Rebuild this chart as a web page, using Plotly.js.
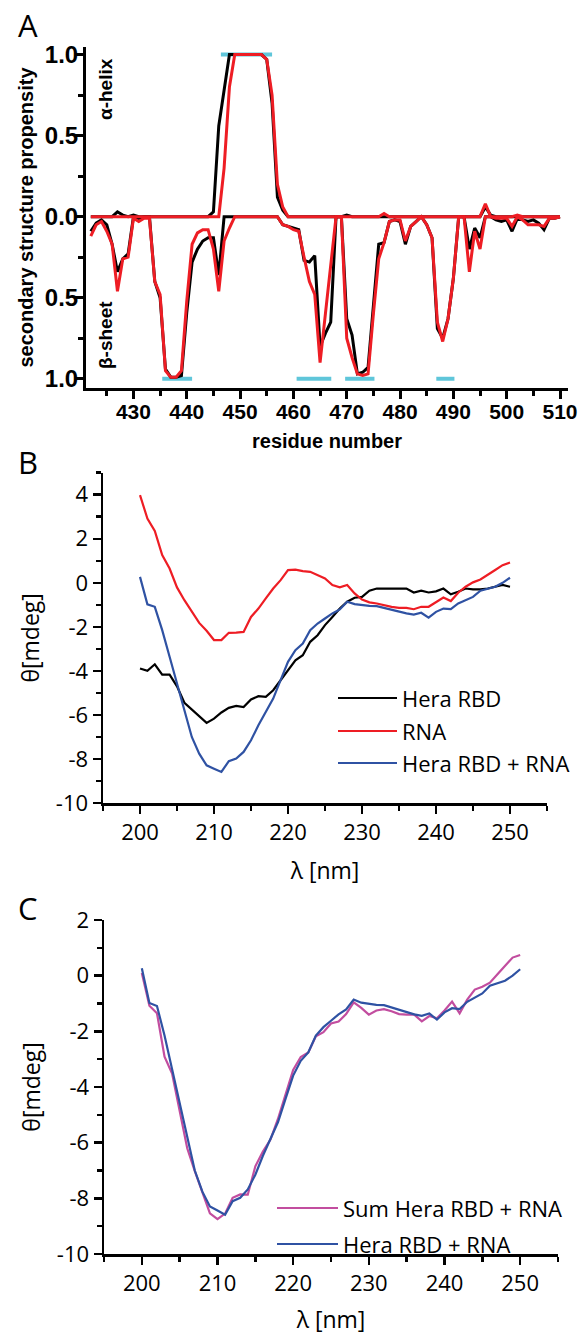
<!DOCTYPE html>
<html><head><meta charset="utf-8">
<script src="https://cdn.plot.ly/plotly-3.0.1.min.js"></script>
<style>html,body{margin:0;padding:0;background:#fff}#plot{width:579px;height:1335px}</style>
</head><body><div id="plot"></div>
<script>
// ---------- Panel A data ----------
const residues = [422,423,424,425,426,427,428,429,430,431,
  432,433,434,435,436,437,438,439,440,441,
  442,443,444,445,446,447,448,449,450,451,
  452,453,454,455,456,457,458,459,460,461,
  462,463,464,465,466,467,468,469,470,471,
  472,473,474,475,476,477,478,479,480,481,
  482,483,484,485,486,487,488,489,490,491,
  492,493,494,495,496,497,498,499,500,501,
  502,503,504,505,506,507,508,509,510];
const helixBlack = [0,0,0,0,0,0.03,0.01,0,0.01,0,
  0,0,0,0,0,0,0,0,0,0,
  0,0,0,0.03,0.56,0.78,1,1,1,1,
  1,1,1,0.97,0.7,0.12,0.04,0,0,0,
  0,0,0,0,0,0,0,0,0.01,0,
  0,0,0,0,0,0,0,0,0,0,
  0,0,0,0,0,0,0,0,0,0,
  0,0,0,0,0.06,0.01,0,0,0,0,
  0,0,0,0,0,0,0,0,0];
const helixRed = [0,0,0,0,0,0,0,0,0,0,
  0,0,0,0,0,0,0,0,0,0,
  0,0,0,0,0,0.3,0.8,1,1,1,
  1,1,1,0.97,0.75,0.2,0.06,0,0,0,
  0,0,0,0,0,0,0,0,0,0,
  0,0,0,0,0,0.02,0,0,0,0,
  0,0,0,0,0,0,0,0,0,0,
  0,0,0,0,0.08,0,0,0,0,0,
  0.01,0,0,0,0,0,0,0,0];
const sheetBlack = [0.09,0.04,0.02,0.05,0.17,0.34,0.26,0.23,0,0.01,
  0,0,0.4,0.5,0.94,0.99,0.99,0.98,0.59,0.28,
  0.2,0.15,0.13,0.13,0.36,0,0,0,0,0,
  0,0,0,0,0,0,0.05,0.06,0.07,0.08,
  0.27,0.28,0.24,0.8,0.72,0.65,0,0,0.63,0.73,
  0.97,0.96,0.93,0.55,0.17,0.16,0.03,0.02,0.03,0.17,
  0.06,0.03,0,0.05,0.13,0.69,0.75,0.63,0.38,0,
  0,0.2,0.07,0.13,0,0,0.02,0.03,0.02,0.09,
  0.01,0.02,0.03,0.02,0.04,0.08,0.01,0.01,0];
const sheetRed = [0.12,0.05,0.03,0.09,0.17,0.46,0.26,0.25,0.01,0.03,
  0.01,0.01,0.4,0.48,0.95,0.99,0.99,0.95,0.52,0.17,
  0.1,0.08,0.08,0.2,0.46,0.15,0.07,0,0,0,
  0,0,0,0,0,0,0.05,0.06,0.08,0.09,
  0.25,0.4,0.48,0.9,0.6,0.28,0,0,0.75,0.87,
  0.97,0.98,0.97,0.6,0.26,0.16,0.03,0.02,0.02,0.15,
  0.06,0.03,0,0.05,0.13,0.65,0.77,0.63,0.38,0,
  0,0.34,0.09,0.2,0,0,0.01,0.01,0.01,0.06,
  0,0.02,0.05,0.05,0.05,0.06,0.01,0.01,0];
const helixBars = [[446.4,456.0]];
const sheetBars = [[435.4,441.0],[460.6,467.1],[469.7,475.2],[486.8,490.2]];
const residueTicks = [430,440,450,460,470,480,490,500,510];
const propTickVals = [-1,-0.5,0,0.5,1];
const propTickText = ['1.0','0.5','0.0','0.5','1.0'];

// ---------- Panels B / C data ----------
const wavelength = [200,201,202,203,204,205,206,207,208,209,
  210,211,212,213,214,215,216,217,218,219,
  220,221,222,223,224,225,226,227,228,229,
  230,231,232,233,234,235,236,237,238,239,
  240,241,242,243,244,245,246,247,248,249,250];
const heraRBD = [-3.89,-4.0,-3.7,-4.17,-4.17,-4.7,-5.45,-5.75,-6.05,-6.36,
  -6.17,-5.89,-5.68,-5.59,-5.64,-5.3,-5.15,-5.18,-4.88,-4.42,
  -3.97,-3.52,-3.29,-2.68,-2.38,-1.92,-1.55,-1.17,-0.86,-0.68,
  -0.64,-0.36,-0.26,-0.26,-0.29,-0.26,-0.26,-0.44,-0.36,-0.44,
  -0.39,-0.26,-0.52,-0.41,-0.26,-0.3,-0.3,-0.26,-0.18,-0.1,-0.18];
const rna = [3.98,2.92,2.35,1.26,0.65,-0.21,-0.79,-1.32,-1.82,-2.18,
  -2.6,-2.6,-2.27,-2.26,-2.23,-1.55,-1.17,-0.71,-0.26,0.12,
  0.58,0.6,0.53,0.5,0.35,0.2,-0.1,-0.21,-0.1,-0.48,
  -0.76,-0.89,-0.94,-1.02,-1.09,-1.14,-1.14,-1.2,-1.09,-1.09,
  -0.86,-0.67,-0.83,-0.45,-0.18,0.02,0.15,0.35,0.58,0.8,0.92];
const heraRBDplusRNA = [0.27,-0.98,-1.09,-2.15,-3.36,-4.58,-5.79,-7.0,-7.76,-8.29,
  -8.44,-8.59,-8.1,-7.98,-7.68,-7.15,-6.47,-5.86,-5.26,-4.42,
  -3.59,-3.06,-2.76,-2.15,-1.85,-1.62,-1.39,-1.21,-0.86,-0.97,
  -1.02,-1.05,-1.06,-1.14,-1.24,-1.32,-1.39,-1.44,-1.36,-1.58,
  -1.32,-1.17,-1.2,-0.94,-0.79,-0.64,-0.36,-0.26,-0.18,0.0,0.23];
const sumHeraRBDRNA = [0.1,-1.08,-1.35,-2.91,-3.52,-4.9,-6.2,-7.02,-7.82,-8.54,
  -8.75,-8.55,-7.98,-7.86,-7.87,-6.85,-6.32,-5.89,-5.14,-4.3,
  -3.39,-2.92,-2.76,-2.18,-2.03,-1.72,-1.65,-1.38,-0.96,-1.16,
  -1.4,-1.25,-1.2,-1.28,-1.38,-1.4,-1.4,-1.64,-1.45,-1.53,
  -1.25,-0.93,-1.35,-0.86,-0.5,-0.4,-0.25,0.05,0.35,0.65,0.74];
const wlTicks = [200,210,220,230,240,250];
const thetaTicksB = [-10,-8,-6,-4,-2,0,2,4];
const thetaTextB = ['-10','-8','-6','-4','-2','0','2','4'];
const thetaTicksC = [-10,-8,-6,-4,-2,0,2];
const thetaTextC = ['-10','-8','-6','-4','-2','0','2'];

// ---------- styling ----------
const W = 579, H = 1335;
const px = x => x / W, py = y => 1 - y / H;
const BLACK = '#000000', RED = '#ee1d24', CYAN = '#5fc6da', BLUE = '#2f52a3', MAGENTA = '#c24d9f';
const arialB = (s) => ({family:'Liberation Sans, Arial, sans-serif', size:s, color:'#000', weight:'bold'});
const myr = (s) => ({family:'Open Sans, sans-serif', size:s, color:'#000'});

const traces = [];
helixBars.forEach(b => traces.push({x:b, y:[1,1], xaxis:'x', yaxis:'y', mode:'lines', line:{color:CYAN, width:4}, hoverinfo:'skip'}));
sheetBars.forEach(b => traces.push({x:b, y:[-1,-1], xaxis:'x', yaxis:'y', mode:'lines', line:{color:CYAN, width:4}, hoverinfo:'skip'}));
traces.push({name:'helix (black)', x:residues, y:helixBlack, xaxis:'x', yaxis:'y', mode:'lines', line:{color:BLACK, width:3}});
traces.push({name:'sheet (black)', x:residues, y:sheetBlack.map(v => -v), xaxis:'x', yaxis:'y', mode:'lines', line:{color:BLACK, width:3}});
traces.push({name:'helix (red)', x:residues, y:helixRed, xaxis:'x', yaxis:'y', mode:'lines', line:{color:RED, width:3}});
traces.push({name:'sheet (red)', x:residues, y:sheetRed.map(v => -v), xaxis:'x', yaxis:'y', mode:'lines', line:{color:RED, width:3}});

const seriesB = [
  {name:'Hera RBD', y:heraRBD, color:BLACK},
  {name:'RNA', y:rna, color:RED},
  {name:'Hera RBD + RNA', y:heraRBDplusRNA, color:BLUE}];
seriesB.forEach(s => traces.push({name:s.name, x:wavelength, y:s.y, xaxis:'x2', yaxis:'y2', mode:'lines', line:{color:s.color, width:2.2}}));
const seriesC = [
  {name:'Sum Hera RBD + RNA', y:sumHeraRBDRNA, color:MAGENTA},
  {name:'Hera RBD + RNA', y:heraRBDplusRNA, color:BLUE}];
seriesC.forEach(s => traces.push({name:s.name, x:wavelength, y:s.y, xaxis:'x3', yaxis:'y3', mode:'lines', line:{color:s.color, width:2.2}}));

const baseAx = {showgrid:false, zeroline:false, showline:true, linecolor:'#000', ticks:'outside', tickcolor:'#000', fixedrange:true};
const axA = Object.assign({}, baseAx, {linewidth:3, tickwidth:3, ticklen:8});
const axBC = Object.assign({}, baseAx, {linewidth:2.5, tickwidth:2.5, ticklen:8});

const layout = {
  width:W, height:H, margin:{l:0,r:0,t:0,b:0}, autosize:false,
  paper_bgcolor:'#fff', plot_bgcolor:'#fff', showlegend:false,
  xaxis: Object.assign({}, axA, {domain:[px(86),px(568)], range:[421.1,511.5], anchor:'y',
    tickmode:'array', tickvals:residueTicks, tickfont:arialB(21), ticklabelstandoff:-5,
    minor:{tickmode:'linear', tick0:425, dtick:10, ticks:'outside', ticklen:5, tickwidth:3, tickcolor:'#000', showgrid:false},
    title:{text:'residue number', font:arialB(20), standoff:12}}),
  yaxis: Object.assign({}, axA, {domain:[py(388),py(47)], range:[-1.057,1.047], anchor:'x',
    tickmode:'array', tickvals:propTickVals, ticktext:propTickText, tickfont:arialB(24), ticklabelstandoff:-8,
    minor:{tickmode:'linear', tick0:0.25, dtick:0.5, ticks:'outside', ticklen:5, tickwidth:3, tickcolor:'#000', showgrid:false},
    title:{text:'secondary structure propensity', font:arialB(20), standoff:6}}),
  xaxis2: Object.assign({}, axBC, {domain:[px(103),px(547)], range:[195,255], anchor:'y2',
    tickmode:'array', tickvals:wlTicks, tickfont:myr(22),
    minor:{tickmode:'linear', tick0:195, dtick:10, ticks:'outside', ticklen:5, tickwidth:2.5, tickcolor:'#000', showgrid:false},
    title:{text:'λ [nm]', font:myr(23), standoff:18}}),
  yaxis2: Object.assign({}, axBC, {domain:[py(803),py(472.7)], range:[-10,5], anchor:'x2',
    tickmode:'array', tickvals:thetaTicksB, ticktext:thetaTextB, tickfont:myr(22),
    minor:{tickmode:'linear', tick0:-9, dtick:2, ticks:'outside', ticklen:5, tickwidth:2.5, tickcolor:'#000', showgrid:false},
    title:{text:'θ[mdeg]', font:myr(23), standoff:10}}),
  xaxis3: Object.assign({}, axBC, {domain:[px(104),px(558)], range:[195,255], anchor:'y3',
    tickmode:'array', tickvals:wlTicks, tickfont:myr(22),
    minor:{tickmode:'linear', tick0:195, dtick:10, ticks:'outside', ticklen:5, tickwidth:2.5, tickcolor:'#000', showgrid:false},
    title:{text:'λ [nm]', font:myr(23), standoff:18}}),
  yaxis3: Object.assign({}, axBC, {domain:[py(1254),py(920)], range:[-10,2], anchor:'x3',
    tickmode:'array', tickvals:thetaTicksC, ticktext:thetaTextC, tickfont:myr(22),
    minor:{tickmode:'linear', tick0:-9, dtick:2, ticks:'outside', ticklen:5, tickwidth:2.5, tickcolor:'#000', showgrid:false},
    title:{text:'θ[mdeg]', font:myr(23), standoff:10}}),
  annotations: [],
  shapes: []
};

// panel letters and inner labels
const ann = (text, x, y, font, extra) => layout.annotations.push(Object.assign({text, x:px(x), y:py(y), xref:'paper', yref:'paper', showarrow:false, font}, extra||{}));
ann('A', 16, 25, myr(31), {xanchor:'left', yanchor:'middle'});
ann('B', 16, 462, myr(31), {xanchor:'left', yanchor:'middle'});
ann('C', 16, 908, myr(31), {xanchor:'left', yanchor:'middle'});
ann('α-helix', 106, 89, arialB(19), {textangle:-90, xanchor:'center', yanchor:'middle'});
ann('β-sheet', 106, 335, arialB(19), {textangle:-90, xanchor:'center', yanchor:'middle'});

// hand-placed legends (long sample lines as in the figure)
const legendRows = (series, x0, x1, ys) => series.forEach((s, i) => {
  layout.shapes.push({type:'line', xref:'paper', yref:'paper', x0:px(x0), x1:px(x1), y0:py(ys[i]), y1:py(ys[i]), line:{color:s.color, width:2.2}});
  ann(s.name, x1 + 3, ys[i], myr(22), {xanchor:'left', yanchor:'middle'});
});
legendRows(seriesB, 338, 397, [698, 731, 763]);
legendRows(seriesC, 277, 338, [1208, 1244]);

Plotly.newPlot('plot', traces, layout, {staticPlot:true, displayModeBar:false});
</script>
</body></html>
